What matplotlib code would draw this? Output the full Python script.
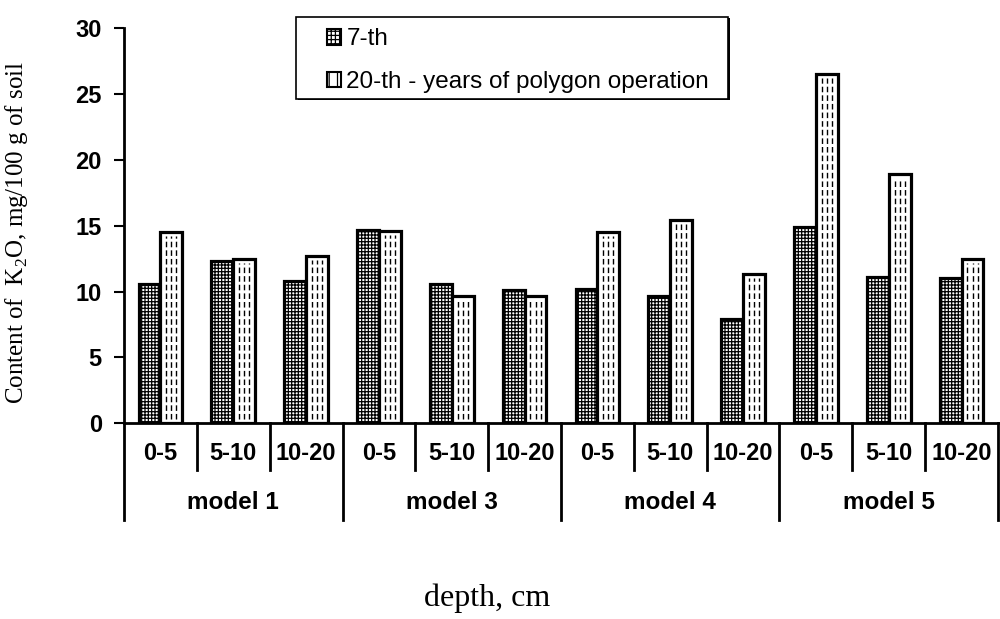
import numpy as np
import matplotlib
matplotlib.use("Agg")
import matplotlib.pyplot as plt
from matplotlib.patches import Patch, Rectangle

plt.rcParams.update({"font.family": "Liberation Sans", "hatch.linewidth": 0.9,
                     "mathtext.fontset": "custom", "mathtext.rm": "Liberation Serif"})

depths = ["0-5", "5-10", "10-20"] * 4
models = ["model 1", "model 3", "model 4", "model 5"]
y7 = [10.6, 12.3, 10.8, 14.7, 10.6, 10.1, 10.2, 9.7, 7.9, 14.9, 11.1, 11.0]
y20 = [14.5, 12.5, 12.7, 14.6, 9.7, 9.7, 14.5, 15.4, 11.3, 26.5, 18.9, 12.5]
labels = ["7-th", "20-th - years of polygon operation"]

fig = plt.figure(figsize=(10, 6.19), dpi=100)
ax = fig.add_axes([0.124, 0.316, 0.874, 0.639])

x = np.arange(len(depths))
w = 0.3
b7 = ax.bar(x - w/2, y7, w, color="white", edgecolor="black", linewidth=2.3, hatch="+++++")
b20 = ax.bar(x + w/2, y20, w, color="white", edgecolor="black", linewidth=2.3)
# dashed vertical fill for the 20-th series
for p in b20:
    x0, bw, h = p.get_x(), p.get_width(), p.get_height()
    ax.vlines([x0 + bw * f for f in (0.27, 0.5, 0.73)], 0.3, h - 0.3,
              colors="black", linewidth=1.0, linestyles=(0, (4, 2.2)))

ax.set_xlim(-0.5, len(depths) - 0.5)
ax.set_ylim(0, 30)
ax.set_yticks(range(0, 31, 5))
ax.tick_params(axis="y", labelsize=17, width=1.5, length=7, direction="out", pad=9)
for t in ax.get_yticklabels():
    t.set_fontweight("bold")
ax.set_xticks([])
for s in ["top", "right"]:
    ax.spines[s].set_visible(False)
ax.spines["left"].set_linewidth(2)
ax.spines["bottom"].set_linewidth(2)

# two-level category axis
tr = ax.get_xaxis_transform()
for i, d in enumerate(depths):
    ax.text(i, -0.076, d, transform=tr, ha="center", va="center",
            fontsize=17, fontweight="bold")
    if i % 3 != 0:
        ax.plot([i - 0.5, i - 0.5], [0, -0.117], transform=tr, color="black",
                linewidth=2, clip_on=False)
for g, m in enumerate(models):
    ax.text(g * 3 + 1, -0.2, m, transform=tr, ha="center", va="center",
            fontsize=17.5, fontweight="bold")
for g in range(len(models) + 1):
    ax.plot([g * 3 - 0.5, g * 3 - 0.5], [0, -0.243], transform=tr, color="black",
            linewidth=2, clip_on=False)

ax.set_ylabel(r"Content of  K$_2$O, mg/100 g of soil", family="Liberation Serif",
              fontsize=18)
ax.yaxis.set_label_coords(-0.108, 0.484)
fig.text(0.487, 0.033, "depth, cm", family="Liberation Serif", fontsize=23,
         ha="center", va="center")

# legend box with a slight shadow, entries placed inside it
fig.patches.append(Rectangle((0.298, 1 - 100/619), 0.432, 82/619, transform=fig.transFigure,
                             facecolor="black", edgecolor="none", zorder=5))
fig.patches.append(Rectangle((0.296, 1 - 99/619), 0.432, 82/619, transform=fig.transFigure,
                             facecolor="white", edgecolor="black", linewidth=1.2, zorder=6))
handles = [Patch(facecolor="white", edgecolor="black", hatch="++++", linewidth=1.5),
           Patch(facecolor="white", edgecolor="black", hatch="||", linewidth=1.5)]
leg = fig.legend(handles, labels, loc="upper left", bbox_to_anchor=(0.322, 0.962),
                 bbox_transform=fig.transFigure, borderaxespad=0, fontsize=17.5,
                 handlelength=0.6, handleheight=0.6, handletextpad=0.2,
                 frameon=False, borderpad=0.2, labelspacing=0.85)
leg.set_zorder(7)

fig.savefig("out.png", dpi=100)
